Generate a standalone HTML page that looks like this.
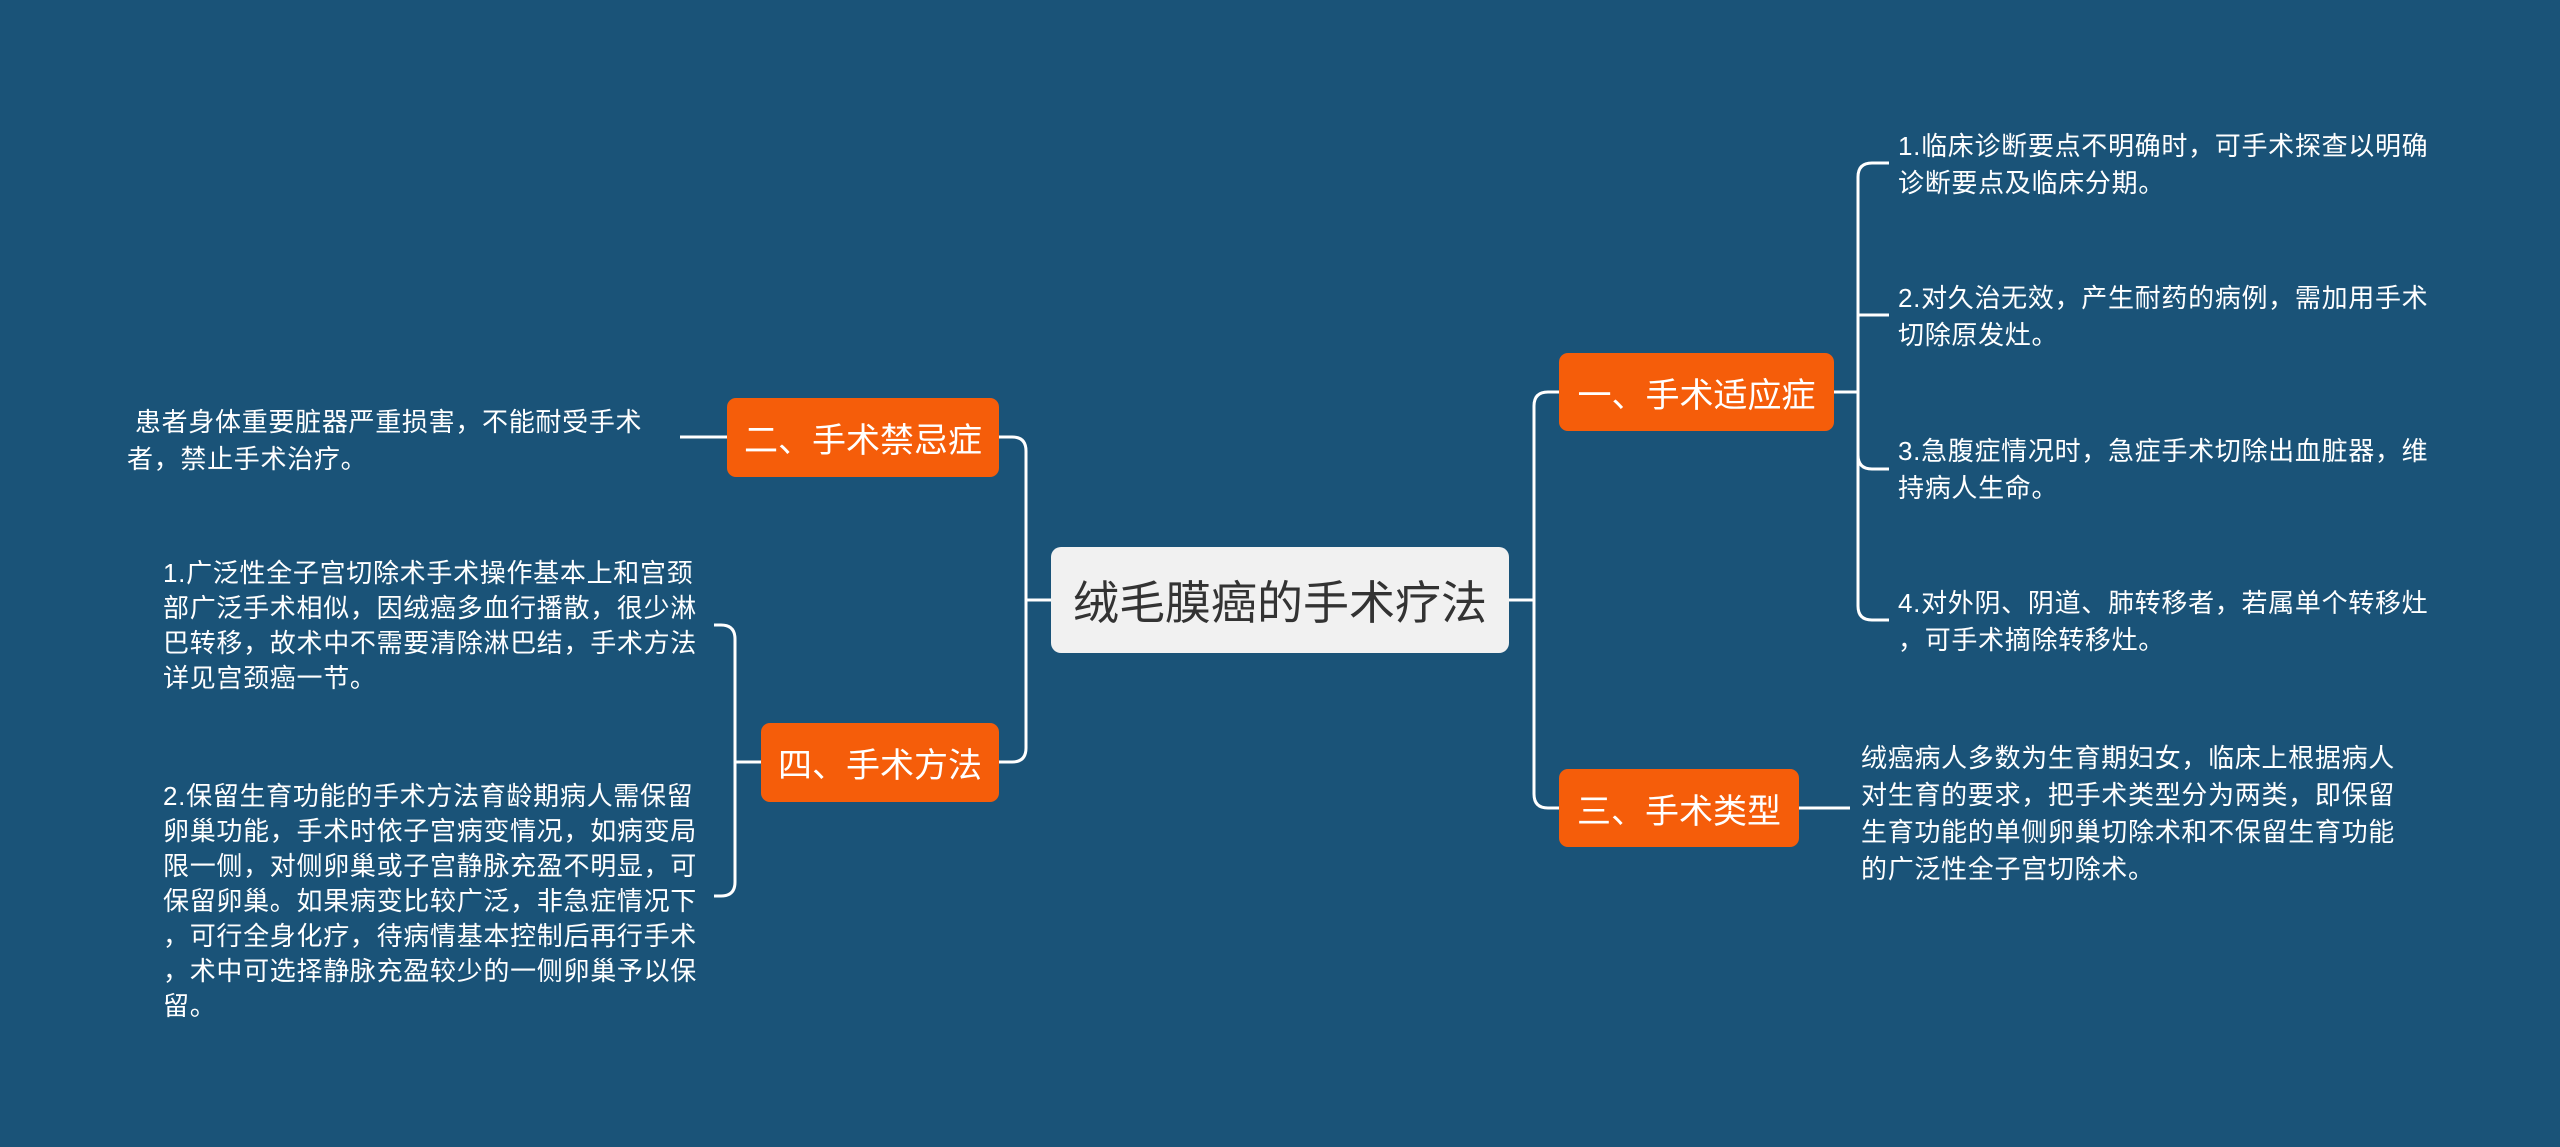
<!DOCTYPE html>
<html><head><meta charset="utf-8"><style>
html,body{margin:0;padding:0}
body{width:2560px;height:1147px;background:#1a5378;position:relative;overflow:hidden;font-family:"Liberation Sans","Noto Sans CJK SC",sans-serif}
.n{position:absolute;background:#f55d0a;color:#fff;border-radius:9px;font-size:34px;display:flex;align-items:center;justify-content:center;box-sizing:border-box}
.t{position:absolute;color:#fff;font-size:26px;letter-spacing:0.7px;line-height:37px;white-space:nowrap}
.c{position:absolute;left:1051px;top:547px;width:458px;height:106px;background:#f1f1f1;border-radius:10px;color:#333;font-size:46px;display:flex;align-items:center;justify-content:center}
</style></head><body>
<svg width="2560" height="1147" style="position:absolute;left:0;top:0" fill="none" stroke="#fff" stroke-width="3">
<path d="M1509 600 H1534 M1559 392 H1548 Q1534 392 1534 406 V794 Q1534 808 1548 808 H1559"/>
<path d="M1051 600 H1026 M999 437 H1012 Q1026 437 1026 451 V748 Q1026 762 1012 762 H999"/>
<path d="M1834 392 H1858 M1889 163 H1872 Q1858 163 1858 177 V606 Q1858 620 1872 620 H1889 M1858 315 Q1858 315 1889 315 M1858 455 Q1858 469 1872 469 H1889"/>
<path d="M1799 808 H1850"/>
<path d="M727 437 H680"/>
<path d="M761 762 H735 M714 625 H721 Q735 625 735 639 V882 Q735 896 721 896 H714"/>
</svg>
<div class="c">绒毛膜癌的手术疗法</div>
<div class="n" style="left:1559px;top:353px;width:275px;height:78px">一、手术适应症</div>
<div class="n" style="left:1559px;top:769px;width:240px;height:78px">三、手术类型</div>
<div class="n" style="left:727px;top:398px;width:272px;height:79px">二、手术禁忌症</div>
<div class="n" style="left:761px;top:723px;width:238px;height:79px">四、手术方法</div>
<div class="t" style="left:1898px;top:128px">1.临床诊断要点不明确时，可手术探查以明确<br>诊断要点及临床分期。</div>
<div class="t" style="left:1898px;top:280px">2.对久治无效，产生耐药的病例，需加用手术<br>切除原发灶。</div>
<div class="t" style="left:1898px;top:433px">3.急腹症情况时，急症手术切除出血脏器，维<br>持病人生命。</div>
<div class="t" style="left:1898px;top:585px">4.对外阴、阴道、肺转移者，若属单个转移灶<br>，可手术摘除转移灶。</div>
<div class="t" style="left:1861px;top:740px">绒癌病人多数为生育期妇女，临床上根据病人<br>对生育的要求，把手术类型分为两类，即保留<br>生育功能的单侧卵巢切除术和不保留生育功能<br>的广泛性全子宫切除术。</div>
<div class="t" style="left:127px;top:404px">&nbsp;患者身体重要脏器严重损害，不能耐受手术<br>者，禁止手术治疗。</div>
<div class="t" style="left:163px;top:556px;line-height:35px">1.广泛性全子宫切除术手术操作基本上和宫颈<br>部广泛手术相似，因绒癌多血行播散，很少淋<br>巴转移，故术中不需要清除淋巴结，手术方法<br>详见宫颈癌一节。</div>
<div class="t" style="left:163px;top:779px;line-height:35px">2.保留生育功能的手术方法育龄期病人需保留<br>卵巢功能，手术时依子宫病变情况，如病变局<br>限一侧，对侧卵巢或子宫静脉充盈不明显，可<br>保留卵巢。如果病变比较广泛，非急症情况下<br>，可行全身化疗，待病情基本控制后再行手术<br>，术中可选择静脉充盈较少的一侧卵巢予以保<br>留。</div>
</body></html>
